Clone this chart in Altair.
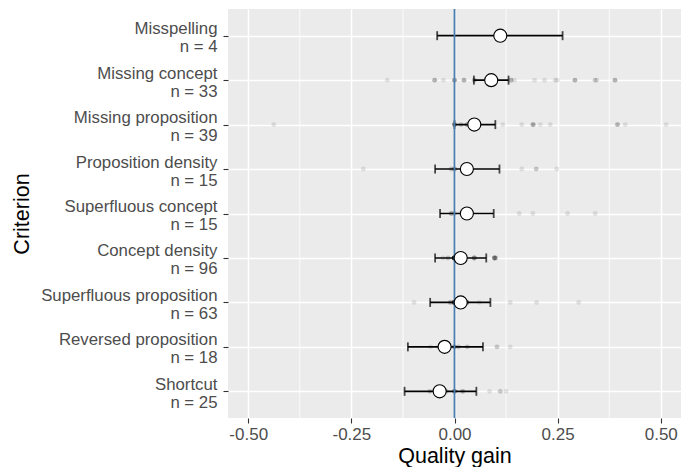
import altair as alt
import pandas as pd

# ---- data ----
categories = ["Misspelling", "Missing concept", "Missing proposition",
              "Proposition density", "Superfluous concept", "Concept density",
              "Superfluous proposition", "Reversed proposition", "Shortcut"]
n_obs = [4, 33, 39, 15, 15, 96, 63, 18, 25]
means = [0.111, 0.089, 0.048, 0.030, 0.030, 0.015, 0.015, -0.024, -0.036]
ci_low = [-0.042, 0.047, 0.000, -0.047, -0.035, -0.047, -0.059, -0.113, -0.121]
ci_high = [0.262, 0.131, 0.099, 0.109, 0.095, 0.077, 0.087, 0.069, 0.053]

pts_misspelling = [0.10, 0.11, 0.11, 0.12]
pts_missing_concept = [-0.163, -0.048, -0.048, -0.048, -0.027, 0.0, 0.0, 0.0, 0.0,
                       0.023, 0.023, 0.023, 0.048, 0.048, 0.048, 0.089,
                       0.137, 0.137, 0.137, 0.145, 0.194, 0.218, 0.244, 0.249,
                       0.292, 0.292, 0.292, 0.341, 0.341, 0.345, 0.389, 0.389, 0.389]
pts_missing_prop = [-0.438, 0.0, 0.0, 0.0, 0.0, 0.0, 0.0, 0.016, 0.016,
                    0.03, 0.03, 0.03, 0.048, 0.048, 0.048, 0.048, 0.048,
                    0.06, 0.06, 0.06, 0.06, 0.05, 0.05, 0.04,
                    0.117, 0.163, 0.19, 0.19, 0.19, 0.192, 0.208, 0.232,
                    0.395, 0.395, 0.395, 0.414, 0.513, 0.045, 0.055]
pts_prop_density = [-0.221, -0.008, -0.008, 0.0, 0.0, 0.0, 0.0,
                    0.03, 0.03, 0.03, 0.03, 0.163, 0.198, 0.198, 0.248]
pts_superfluous_concept = [-0.008, -0.008, -0.008, 0.0, 0.0, 0.015,
                           0.03, 0.03, 0.03, 0.03, 0.03,
                           0.157, 0.19, 0.274, 0.341]
pts_concept_density = ([-0.028, -0.016, -0.016] + [0.0] * 30 + [0.015] * 40 +
                       [0.025] * 10 + [0.048] * 5 + [0.097] * 6 + [0.10] * 2)
pts_superfluous_prop = ([-0.098, -0.01, -0.01, -0.01] + [0.0] * 20 + [0.015] * 28 +
                        [0.03] * 6 + [0.06, 0.135, 0.199, 0.301])
pts_reversed_prop = [-0.058, -0.04, -0.024, -0.024, -0.024, -0.024,
                     0.0, 0.0, 0.0, 0.0, 0.0, 0.01, 0.01,
                     0.031, 0.031, 0.103, 0.103, 0.135]
pts_shortcut = [-0.06, -0.06, -0.036, -0.036, -0.036, -0.036, -0.036, -0.036,
                -0.036, -0.036, -0.02, -0.02, 0.0, 0.0, 0.0, 0.0, 0.0, 0.0,
                0.02, 0.02, 0.02, 0.085, 0.111, 0.111, 0.125]

point_lists = [pts_misspelling, pts_missing_concept, pts_missing_prop,
               pts_prop_density, pts_superfluous_concept, pts_concept_density,
               pts_superfluous_prop, pts_reversed_prop, pts_shortcut]

x_ticks = [-0.5, -0.25, 0.0, 0.25, 0.5]
x_minor = [-0.375, -0.125, 0.125, 0.375]
zero_line = [0.0]

# ---- tables ----
labels = [f"{c}|n = {n}" for c, n in zip(categories, n_obs)]
summary = pd.DataFrame({"label": labels, "mean": means, "lo": ci_low, "hi": ci_high})
points = pd.DataFrame([{"label": lab, "gain": v}
                       for lab, lst in zip(labels, point_lists) for v in lst])
minor = pd.DataFrame({"x": x_minor})
zero = pd.DataFrame({"x": zero_line})

FONT = "Liberation Sans"
x_scale = alt.Scale(domain=[-0.549, 0.549], nice=False, zero=False)
y_scale = alt.Scale(type="point", domain=labels, padding=0.6)

x_axis = alt.Axis(values=x_ticks, title="Quality gain",
                  labelExpr="(datum.value < 0 ? '-' : '') + format(abs(datum.value), '.2f')",
                  grid=True, gridColor="white", gridWidth=1.5, domain=False,
                  tickColor="#333333", tickSize=5, tickWidth=1.1,
                  labelFont=FONT, labelFontSize=17, labelColor="#4D4D4D", labelPadding=3,
                  titleFont=FONT, titleFontSize=21.5, titleFontWeight="normal",
                  titleColor="black", titlePadding=3)
y_axis = alt.Axis(title="Criterion", labelExpr="split(datum.label, '|')",
                  labelAlign="right", labelBaseline="middle", labelLineHeight=18,
                  labelOffset=-7,
                  grid=True, gridColor="white", gridWidth=1.5, domain=False,
                  tickColor="#333333", tickSize=5, tickWidth=1.1,
                  labelFont=FONT, labelFontSize=16.8, labelColor="#4D4D4D", labelPadding=6,
                  titleFont=FONT, titleFontSize=21.5, titleFontWeight="normal",
                  titleColor="black", titlePadding=7)

def X(field):
    return alt.X(field, type="quantitative", scale=x_scale, axis=x_axis)

def Y():
    return alt.Y("label:N", scale=y_scale, axis=y_axis, sort=labels)

minor_grid = alt.Chart(minor).mark_rule(color="white", strokeWidth=0.8).encode(x=X("x"))

pts = alt.Chart(points).mark_circle(size=24, color="black", opacity=0.1).encode(
    x=X("gain"), y=Y())

bars = alt.Chart(summary).mark_rule(color="black", strokeWidth=1.6).encode(
    x=X("lo"), x2="hi", y=Y())
cap_lo = alt.Chart(summary).mark_tick(color="black", thickness=1.8, size=9).encode(
    x=X("lo"), y=Y())
cap_hi = alt.Chart(summary).mark_tick(color="black", thickness=1.8, size=9).encode(
    x=X("hi"), y=Y())

vline = alt.Chart(zero).mark_rule(color="#4a7fb0", strokeWidth=1.8).encode(x=X("x"))

dots = alt.Chart(summary).mark_point(filled=True, fill="white", stroke="black",
                                     strokeWidth=1.1, size=170, opacity=1).encode(
    x=X("mean"), y=Y())

chart = alt.layer(minor_grid, pts, bars, cap_lo, cap_hi, vline, dots).properties(
    width=453, height=409,
    padding={"left": 3, "top": 0, "right": 5, "bottom": 0},
).configure_view(fill="#EBEBEB", strokeWidth=0)

chart.save("out.html", embed_options={"renderer": "svg", "actions": False})
